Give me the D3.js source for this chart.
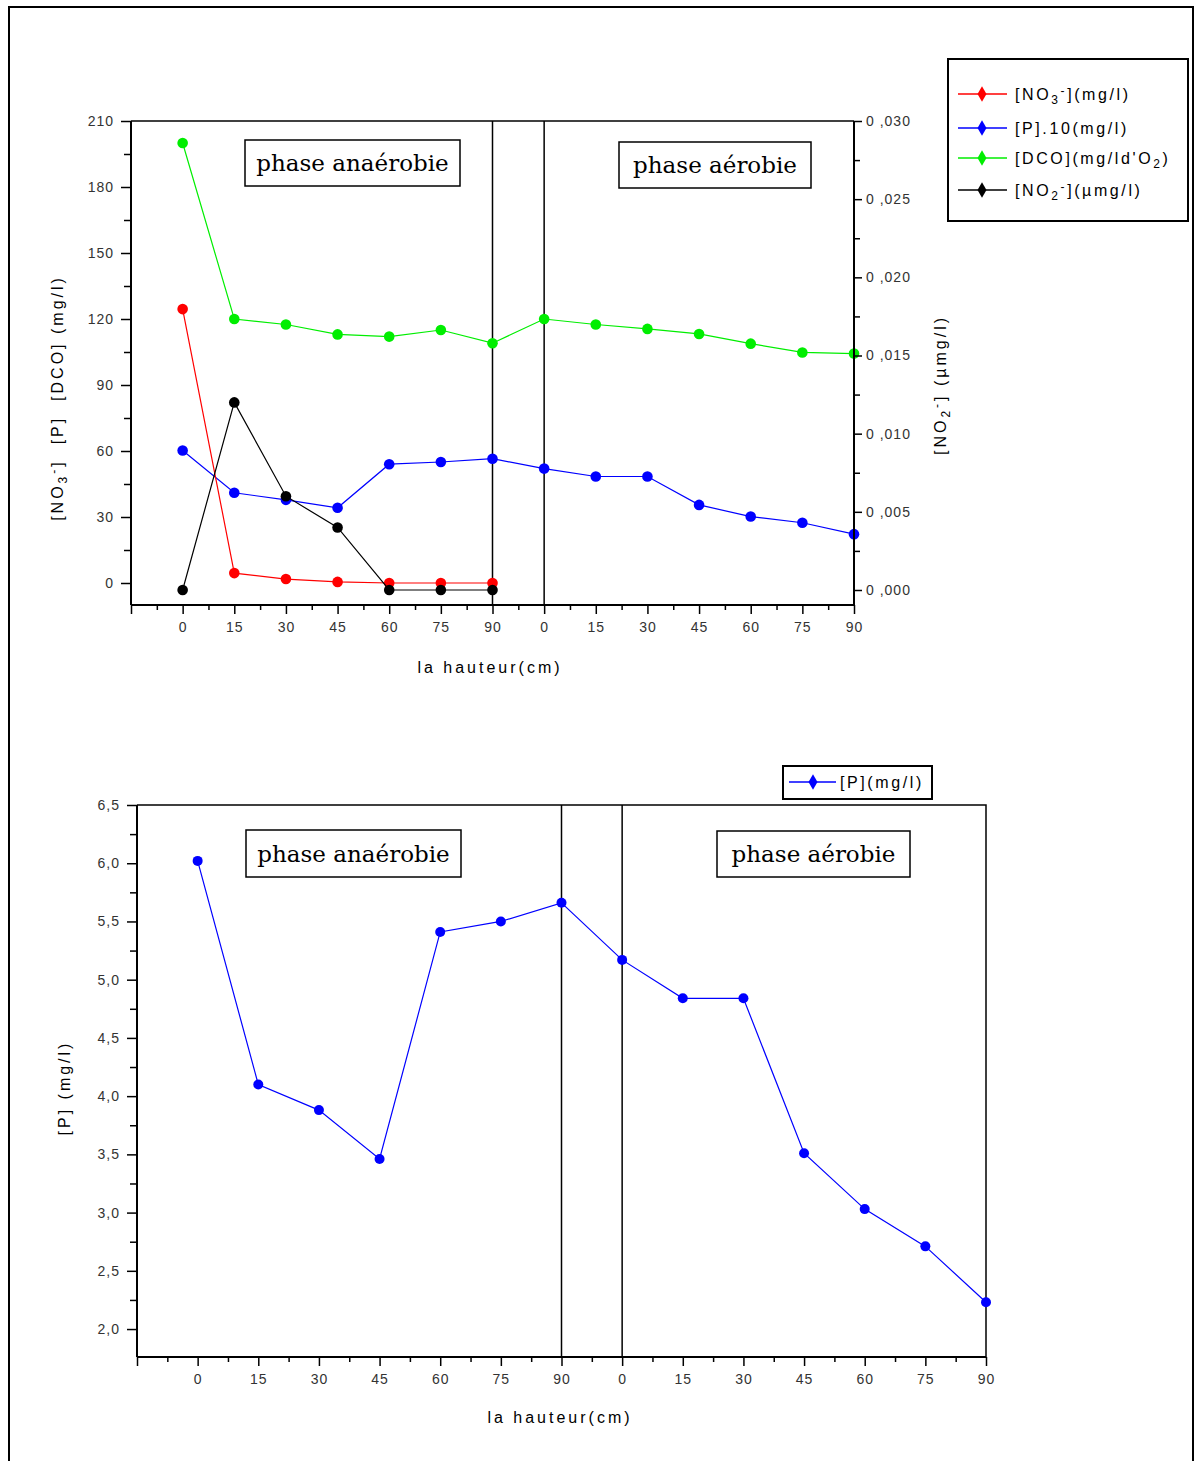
<!DOCTYPE html>
<html>
<head>
<meta charset="utf-8">
<script src="https://cdn.jsdelivr.net/npm/d3@7"></script>
<style>
  body { margin: 0; background: #fff; }
  text { font-family: "Liberation Sans", Arial, sans-serif; }
  .tick text { font-size: 14px; fill: #333; letter-spacing: 1px; }
  .serif { font-family: "DejaVu Serif", "Liberation Serif", serif; }
</style>
</head>
<body>
<script>
// heights (cm) along the column, anaerobic then aerobic
var xLabels = ['0', '15', '30', '45', '60', '75', '90', '0', '15', '30', '45', '60', '75', '90'];

// top chart series (left axis, mg/l)
var no3 = [124.5, 4.5, 1.8, 0.5, 0, 0, 0];
var p10 = [60.2, 41, 37.8, 34.2, 54, 55, 56.5, 52, 48.4, 48.4, 35.5, 30.2, 27.4, 22.2];
var dco = [200, 120, 117.5, 113, 112, 115, 109, 120, 117.5, 115.5, 113.2, 108.8, 104.8, 104.3];
// right axis (µmg/l)
var no2 = [0, 0.012, 0.006, 0.004, 0, 0, 0];

// bottom chart series
var pConc = [6.02, 4.10, 3.88, 3.46, 5.41, 5.50, 5.66, 5.17, 4.84, 4.84, 3.51, 3.03, 2.71, 2.23];

var leftTicksTop = [0, 30, 60, 90, 120, 150, 180, 210];
var rightTicksTop = [0, 0.005, 0.010, 0.015, 0.020, 0.025, 0.030];
var leftTicksBottom = [2.0, 2.5, 3.0, 3.5, 4.0, 4.5, 5.0, 5.5, 6.0, 6.5];

var W = 1195, H = 1461;
var svg = d3.select('body').append('svg')
  .attr('width', W)
  .attr('height', H);

// page frame
svg.append('path')
  .attr('d', 'M9,1461 V7 H1193 V1461')
  .attr('fill', 'none')
  .attr('stroke', '#000')
  .attr('stroke-width', 2);

function richText(g, parts) {
  parts.forEach(function(p) {
    var ts = g.append('tspan').text(p.t);
    if (p.sub) ts.attr('dy', 4).attr('font-size', '0.75em');
    if (p.sup) ts.attr('dy', -9).attr('font-size', '0.75em');
    if (p.back) ts.attr('dy', p.back);
  });
}

function xAxis(g, x, y0) {
  var majors = d3.range(-1, 14);
  var minors = d3.range(-0.5, 13, 1);
  var ax = g.append('g').attr('transform', 'translate(0,' + y0 + ')');
  ax.call(d3.axisBottom(x).tickValues(majors).tickSize(9).tickPadding(8)
    .tickFormat(function(d) { return d < 0 ? '' : xLabels[d]; }));
  ax.append('g').call(d3.axisBottom(x).tickValues(minors).tickSize(5).tickFormat(''));
  ax.selectAll('.domain').remove();
  ax.selectAll('line').attr('stroke-width', 1.5);
  g.append('line').attr('x1', x.range()[0]).attr('x2', x.range()[1])
    .attr('y1', y0).attr('y2', y0).attr('stroke', '#000').attr('stroke-width', 2);
}

function yAxisLeft(g, y, x0, majors, minors, fmt) {
  var ax = g.append('g').attr('transform', 'translate(' + x0 + ',0)');
  ax.call(d3.axisLeft(y).tickValues(majors).tickSize(10).tickPadding(7).tickFormat(fmt));
  ax.append('g').call(d3.axisLeft(y).tickValues(minors).tickSize(7).tickFormat(''));
  ax.selectAll('.domain').remove();
  ax.selectAll('line').attr('stroke-width', 1.5);
  g.append('line').attr('x1', x0).attr('x2', x0)
    .attr('y1', y.range()[0]).attr('y2', y.range()[1]).attr('stroke', '#000').attr('stroke-width', 2);
}

function phaseBox(g, x, y, w, h, label) {
  g.append('rect').attr('x', x).attr('y', y).attr('width', w).attr('height', h)
    .attr('fill', '#fff').attr('stroke', '#000').attr('stroke-width', 1.5);
  g.append('text').attr('class', 'serif')
    .attr('x', x + w / 2).attr('y', y + h / 2 + 8)
    .attr('text-anchor', 'middle').attr('font-size', 23).attr('fill', '#000')
    .text(label);
}

function series(g, x, y, values, color, r) {
  var line = d3.line().x(function(d, i) { return x(i); }).y(function(d) { return y(d); });
  g.append('path').datum(values).attr('d', line)
    .attr('fill', 'none').attr('stroke', color).attr('stroke-width', 1.2);
  g.selectAll(null).data(values).enter().append('circle')
    .attr('cx', function(d, i) { return x(i); })
    .attr('cy', function(d) { return y(d); })
    .attr('r', r).attr('fill', color);
}

// ---------------- top chart ----------------
var topG = svg.append('g');
var x1 = d3.scaleLinear().domain([-1, 13]).range([131, 854]);
var y1 = d3.scaleLinear().domain([-10, 210]).range([605, 121]);
var y1r = d3.scaleLinear().domain([-0.00096, 0.030]).range([605, 121]);

topG.append('line').attr('x1', 131).attr('x2', 854).attr('y1', 121).attr('y2', 121)
  .attr('stroke', '#000').attr('stroke-width', 1.5);
[6, 7].forEach(function(i) {
  topG.append('line').attr('x1', x1(i)).attr('x2', x1(i)).attr('y1', 121).attr('y2', 605)
    .attr('stroke', '#000').attr('stroke-width', 1.5);
});

phaseBox(topG, 245, 140, 215, 46, 'phase anaérobie');
phaseBox(topG, 619, 142, 192, 46, 'phase aérobie');

series(topG, x1, y1, dco, '#00ee00', 5.3);
series(topG, x1, y1, p10, '#0000ff', 5.3);
series(topG, x1, y1, no3, '#ff0000', 5.3);
series(topG, x1, y1r, no2, '#000000', 5.3);

xAxis(topG, x1, 605);
yAxisLeft(topG, y1, 131, leftTicksTop, d3.range(15, 210, 30), function(d) { return d; });

// right axis
var rax = topG.append('g').attr('transform', 'translate(854,0)');
rax.call(d3.axisRight(y1r).tickValues(rightTicksTop).tickSize(8).tickPadding(4)
  .tickFormat(function(d) { return d3.format('.3f')(d).replace('.', ' ,'); }));
rax.append('g').call(d3.axisRight(y1r).tickValues(d3.range(0.0025, 0.030, 0.005)).tickSize(6).tickFormat(''));
rax.selectAll('.domain').remove();
rax.selectAll('line').attr('stroke-width', 1.5);
rax.selectAll('text').style('white-space', 'pre');
topG.append('line').attr('x1', 854).attr('x2', 854).attr('y1', 121).attr('y2', 605)
  .attr('stroke', '#000').attr('stroke-width', 2);

// axis titles
var t1 = topG.append('text').attr('transform', 'translate(63,398) rotate(-90)')
  .attr('text-anchor', 'middle').attr('font-size', 16).attr('letter-spacing', 3)
  .style('white-space', 'pre');
richText(t1, [{ t: '[NO' }, { t: '3', sub: true }, { t: '-', sup: true }, { t: ']  [P]  [DCO] (mg/l)', back: 5 }]);

var t2 = topG.append('text').attr('transform', 'translate(946,385) rotate(-90)')
  .attr('text-anchor', 'middle').attr('font-size', 16).attr('letter-spacing', 3)
  .style('white-space', 'pre');
richText(t2, [{ t: '[NO' }, { t: '2', sub: true }, { t: '-', sup: true }, { t: '] (µmg/l)', back: 5 }]);

topG.append('text').attr('x', 490).attr('y', 673).attr('text-anchor', 'middle')
  .attr('font-size', 16).attr('letter-spacing', 3).text('la hauteur(cm)');

// legend
var legItems = [
  { color: '#ff0000', parts: [{ t: '[NO' }, { t: '3', sub: true }, { t: '-', sup: true }, { t: '](mg/l)', back: 5 }] },
  { color: '#0000ff', parts: [{ t: '[P].10(mg/l)' }] },
  { color: '#00ee00', parts: [{ t: '[DCO](mg/ld\'O' }, { t: '2', sub: true }, { t: ')', back: -4 }] },
  { color: '#000000', parts: [{ t: '[NO' }, { t: '2', sub: true }, { t: '-', sup: true }, { t: '](µmg/l)', back: 5 }] }
];
var legY = [94, 128, 158, 190];
topG.append('rect').attr('x', 948).attr('y', 59).attr('width', 240).attr('height', 162)
  .attr('fill', '#fff').attr('stroke', '#000').attr('stroke-width', 2);
legItems.forEach(function(it, i) {
  var yy = legY[i];
  topG.append('line').attr('x1', 958).attr('x2', 1007).attr('y1', yy).attr('y2', yy)
    .attr('stroke', it.color).attr('stroke-width', 1.5);
  topG.append('path').attr('d', d3.symbol(d3.symbolDiamond, 70)())
    .attr('transform', 'translate(982,' + yy + ')').attr('fill', it.color);
  var tx = topG.append('text').attr('x', 1015).attr('y', yy + 6)
    .attr('font-size', 16).attr('letter-spacing', 2.6);
  richText(tx, it.parts);
});

// ---------------- bottom chart ----------------
var bot = svg.append('g');
var x2 = d3.scaleLinear().domain([-1, 13]).range([137, 986]);
var y2 = d3.scaleLinear().domain([1.76, 6.5]).range([1357, 805]);

bot.append('path').attr('d', 'M137,805 H986 V1357')
  .attr('fill', 'none').attr('stroke', '#000').attr('stroke-width', 1.5);
[6, 7].forEach(function(i) {
  bot.append('line').attr('x1', x2(i)).attr('x2', x2(i)).attr('y1', 805).attr('y2', 1357)
    .attr('stroke', '#000').attr('stroke-width', 1.5);
});

phaseBox(bot, 246, 830, 215, 47, 'phase anaérobie');
phaseBox(bot, 717, 831, 193, 46, 'phase aérobie');

series(bot, x2, y2, pConc, '#0000ff', 5);

xAxis(bot, x2, 1357);
yAxisLeft(bot, y2, 137, leftTicksBottom, d3.range(2.25, 6.5, 0.5),
  function(d) { return d3.format('.1f')(d).replace('.', ','); });

bot.append('text').attr('transform', 'translate(70,1088) rotate(-90)')
  .attr('text-anchor', 'middle').attr('font-size', 16).attr('letter-spacing', 3)
  .style('white-space', 'pre').text('[P] (mg/l)');

bot.append('text').attr('x', 560).attr('y', 1423).attr('text-anchor', 'middle')
  .attr('font-size', 16).attr('letter-spacing', 3).text('la hauteur(cm)');

bot.append('rect').attr('x', 783).attr('y', 766).attr('width', 149).attr('height', 33)
  .attr('fill', '#fff').attr('stroke', '#000').attr('stroke-width', 2);
bot.append('line').attr('x1', 789).attr('x2', 836).attr('y1', 782).attr('y2', 782)
  .attr('stroke', '#0000ff').attr('stroke-width', 1.5);
bot.append('path').attr('d', d3.symbol(d3.symbolDiamond, 70)())
  .attr('transform', 'translate(813,782)').attr('fill', '#0000ff');
bot.append('text').attr('x', 840).attr('y', 788).attr('font-size', 16).attr('letter-spacing', 2.6)
  .text('[P](mg/l)');
</script>
</body>
</html>
